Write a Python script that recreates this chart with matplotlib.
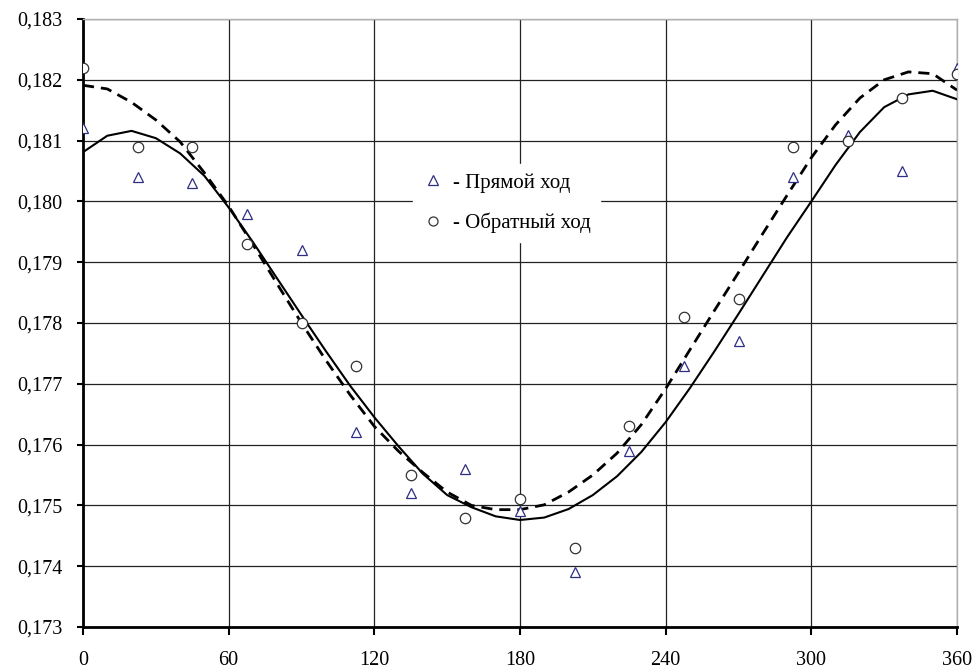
import matplotlib
matplotlib.use("Agg")
import matplotlib.pyplot as plt
from matplotlib.lines import Line2D

plt.rcParams['font.family'] = ['Liberation Serif', 'DejaVu Serif']

# ---- data ----
angles = [0, 22.5, 45, 67.5, 90, 112.5, 135, 157.5, 180, 202.5, 225, 247.5,
          270, 292.5, 315, 337.5, 360]
forward = [0.1812, 0.1804, 0.1803, 0.1798, 0.1792, 0.1762, 0.1752, 0.1756, 0.1749,
           0.1739, 0.1759, 0.1773, 0.1777, 0.1804, 0.1811, 0.1805, 0.1822]
backward = [0.1822, 0.1809, 0.1809, 0.1793, 0.1780, 0.1773, 0.1755, 0.1748, 0.1751,
            0.1743, 0.1763, 0.1781, 0.1784, 0.1809, 0.1810, 0.1817, 0.1821]

curve_x = [0, 10, 20, 30, 40, 50, 60, 70, 80, 90, 100, 110, 120, 130, 140, 150, 160,
           170, 180, 190, 200, 210, 220, 230, 240, 250, 260, 270, 280, 290, 300, 310,
           320, 330, 340, 350, 360]
solid_curve = [0.18081, 0.18108, 0.18116, 0.18104, 0.18079, 0.18042, 0.17990, 0.17933,
               0.17873, 0.17813, 0.17754, 0.17697, 0.17645, 0.17597, 0.17552, 0.17517,
               0.17497, 0.17482, 0.17476, 0.17480, 0.17494, 0.17517, 0.17548, 0.17588,
               0.17637, 0.17693, 0.17753, 0.17815, 0.17878, 0.17941, 0.18000, 0.18060,
               0.18114, 0.18155, 0.18176, 0.18182, 0.18168]
dashed_curve = [0.18191, 0.18185, 0.18163, 0.18134, 0.18098, 0.18047, 0.17992, 0.17929,
                0.17864, 0.17800, 0.17739, 0.17682, 0.17630, 0.17589, 0.17554, 0.17522,
                0.17500, 0.17493, 0.17493, 0.17501, 0.17522, 0.17550, 0.17586, 0.17633,
                0.17692, 0.17756, 0.17820, 0.17883, 0.17947, 0.18010, 0.18072, 0.18126,
                0.18170, 0.18200, 0.18213, 0.18210, 0.18183]

x_ticks = [0, 60, 120, 180, 240, 300, 360]
x_tick_labels = ['0', '60', '120', '180', '240', '300', '360']
y_ticks = [0.173, 0.174, 0.175, 0.176, 0.177, 0.178, 0.179, 0.180, 0.181, 0.182, 0.183]
y_tick_labels = ['0,173', '0,174', '0,175', '0,176', '0,177', '0,178', '0,179',
                 '0,180', '0,181', '0,182', '0,183']
legend_labels = ['- Прямой ход', '- Обратный ход']

# ---- figure ----
fig = plt.figure(figsize=(9.77, 6.72), dpi=100)
ax = fig.add_axes([83 / 977, 1 - 627 / 672, (957 - 83) / 977, (627 - 19) / 672])

ax.set_xlim(0, 360)
ax.set_ylim(0.173, 0.183)
ax.set_xticks(x_ticks)
ax.set_xticklabels(x_tick_labels)
ax.set_yticks(y_ticks)
ax.set_yticklabels(y_tick_labels)

ax.grid(True, color='#222222', linewidth=0.9)
ax.set_axisbelow(True)

for s in ['top', 'right']:
    ax.spines[s].set_color('#b0b0b0')
    ax.spines[s].set_linewidth(1.0)
for s in ['left', 'bottom']:
    ax.spines[s].set_color('black')
    ax.spines[s].set_linewidth(2.0)

ax.tick_params(axis='x', direction='out', length=5.5, width=1.5, pad=12,
               labelsize=14.5, colors='black')
ax.tick_params(axis='y', direction='out', length=4.5, width=1.5, pad=10,
               labelsize=14.5, colors='black')

ax.plot(curve_x, solid_curve, color='black', linewidth=1.5, linestyle='-', zorder=3)
ax.plot(curve_x, dashed_curve, color='black', linewidth=2.0, linestyle=(0, (4, 2.5)),
        zorder=3)

tri_color = '#2e2e85'
ax.plot(angles, forward, linestyle='none', marker='^', markersize=7.5,
        markerfacecolor='white', markeredgecolor=tri_color, markeredgewidth=0.9, zorder=4)
ax.plot(angles, backward, linestyle='none', marker='o', markersize=7.5,
        markerfacecolor='white', markeredgecolor='#333333', markeredgewidth=0.9, zorder=4)

handles = [
    Line2D([], [], linestyle='none', marker='^', markersize=6.5, markerfacecolor='white',
           markeredgecolor=tri_color, markeredgewidth=0.9),
    Line2D([], [], linestyle='none', marker='o', markersize=6.5, markerfacecolor='white',
           markeredgecolor='#333333', markeredgewidth=0.9),
]
leg = ax.legend(handles, legend_labels, loc='upper left', bbox_to_anchor=(0.378, 0.762),
                frameon=True, fontsize=15, handlelength=1.0, handletextpad=0.45,
                labelspacing=0.95, borderpad=0.45, borderaxespad=0.0, fancybox=False)
leg.get_frame().set_facecolor('white')
leg.get_frame().set_edgecolor('white')
leg.get_frame().set_alpha(1.0)
leg.set_zorder(5)

fig.savefig('out.png', dpi=100, facecolor='white')
